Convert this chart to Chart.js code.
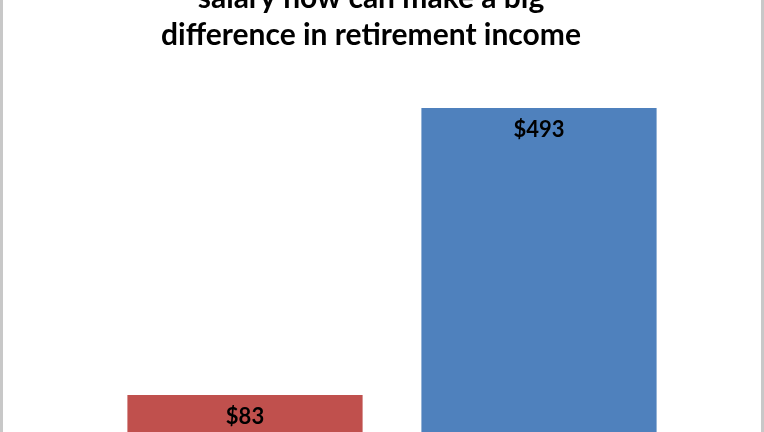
<!DOCTYPE html>
<html>
<head>
<meta charset="utf-8">
<script src="https://cdn.jsdelivr.net/npm/chart.js@4/dist/chart.umd.min.js"></script>
<style>
  html, body { margin: 0; padding: 0; background: #fff; overflow: hidden; }
  #frame { position: relative; width: 764px; height: 432px; overflow: hidden; }
  #box { position: absolute; left: 0; top: -20px; width: 764px; height: 473px; }
  .edge { position: absolute; top: 0; width: 3px; height: 432px; background: #c8c8c8; }
</style>
</head>
<body>
<div id="frame">
  <div id="box"><canvas id="incomeChart"></canvas></div>
  <div class="edge" style="left:0"></div>
  <div class="edge" style="left:761px"></div>
</div>
<script>
const categories = ['Saving less', 'Saving more'];
const incomeValues = [83, 493];
const valueLabels = ['$83', '$493'];
const barColors = ['#C0504D', '#4F81BD'];
const titleLines = ['salary now can make a big', 'difference in retirement income'];

// draws the dollar labels inside the top of each bar
const barLabels = {
  id: 'barLabels',
  afterDatasetsDraw(chart) {
    const ctx = chart.ctx;
    const meta = chart.getDatasetMeta(0);
    ctx.save();
    ctx.font = 'bold 22px Lato, "Open Sans", sans-serif';
    ctx.fillStyle = '#000';
    ctx.textAlign = 'center';
    ctx.textBaseline = 'middle';
    meta.data.forEach((bar, i) => {
      ctx.fillText(valueLabels[i], bar.x, bar.y + 22);
    });
    ctx.restore();
  }
};

const chart = document.getElementById('incomeChart').getContext('2d');
new Chart(chart, {
  type: 'bar',
  data: {
    labels: categories,
    datasets: [{
      data: incomeValues,
      backgroundColor: barColors,
      borderWidth: 0,
      barPercentage: 0.8,
      categoryPercentage: 1
    }]
  },
  options: {
    responsive: true,
    maintainAspectRatio: false,
    animation: false,
    layout: { padding: { left: 56, right: 78, top: 0, bottom: 0 } },
    scales: {
      x: { display: false },
      y: {
        min: 0,
        max: 550,
        // empty axis strip, keeps the title a bit left of the plot centre
        grid: { display: false },
        border: { display: false },
        ticks: { display: false },
        afterFit(scale) { scale.width = 42; }
      }
    },
    plugins: {
      legend: { display: false },
      tooltip: { enabled: false },
      title: {
        display: true,
        text: titleLines,
        color: '#000',
        font: { family: 'Lato, "Open Sans", sans-serif', size: 30, weight: 'bold', lineHeight: '37px' },
        padding: { top: 0, bottom: 14 }
      }
    }
  },
  plugins: [barLabels]
});
</script>
</body>
</html>
